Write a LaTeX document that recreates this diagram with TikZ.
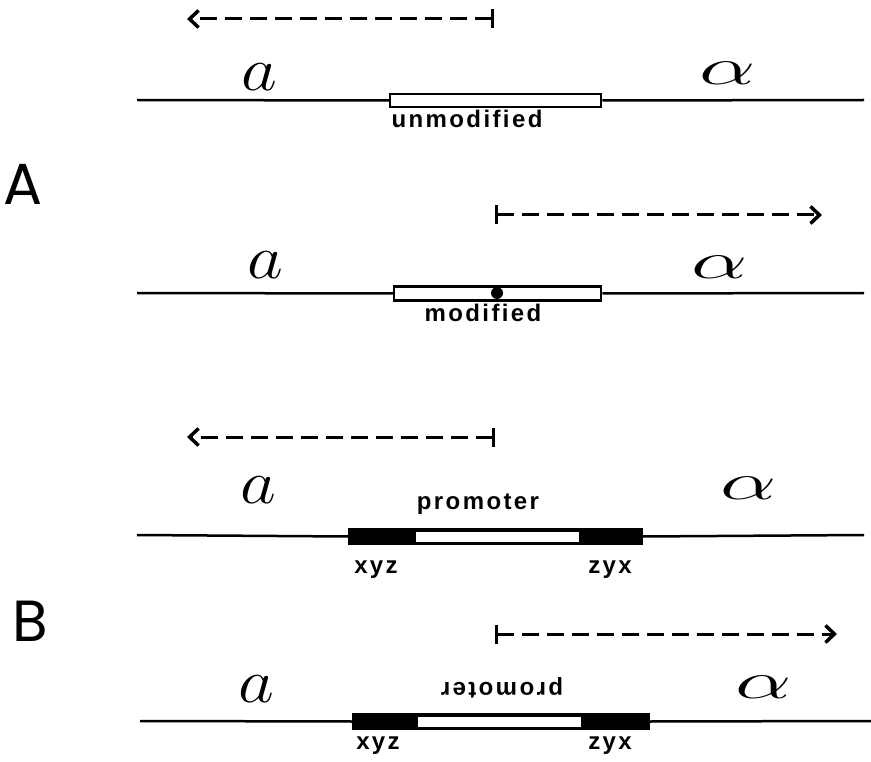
\documentclass[tikz,border=0pt]{standalone}
\usepackage{fontspec}
\setmainfont{Liberation Sans}
\newfontfamily\labelfont[LetterSpace=10]{Liberation Sans}
\newfontfamily\panelfont{Poppins}
\usetikzlibrary{arrows.meta}

\tikzset{
  dna/.style={line width=2.5pt},
  gene/.style={draw, line width=2.5pt, fill=white, inner sep=0pt, minimum width=#1},
  flank/.style={draw, fill=black, line width=1pt, inner sep=0pt, minimum height=16pt, minimum width=#1},
  core/.style={fill=white, inner sep=0pt, minimum height=10pt, minimum width=#1},
  transcript/.style={line width=3pt, dash pattern=on 17pt off 8pt,
    {Bar[width=19pt,line width=3pt]}-{Straight Barb[length=9pt,width=17pt,line width=3.5pt]}},
  lbl/.style={font=\labelfont\bfseries\fontsize{24}{24}\selectfont, inner sep=0pt},
  panel/.style={font=\panelfont\fontsize{58}{58}\selectfont, inner sep=0pt},
  script/.style={inner sep=0pt},
}

\newcommand{\lefty}{\scalebox{2.8}[2.5]{\fontsize{25}{25}\selectfont$a$}}
\newcommand{\greekalpha}{\scalebox{3.6}[2.1]{\fontsize{25}{25}\selectfont$\alpha$}}

\begin{document}
\begin{tikzpicture}[x=1pt,y=-1pt]
\useasboundingbox (0,0) rectangle (871,762);

% panel letters
\node[panel] (pA) at (23,184) {A};
\node[panel] (pB) at (30,621) {B};

% ---------- A, unmodified ----------
\coordinate (s1) at (494,19);
\coordinate (e1) at (187,19);
\draw[transcript] (s1) -- (e1);
\node[script] (a1) at (259,77) {\lefty};
\node[script] (al1) at (728,73) {\greekalpha};
\coordinate (l1) at (137,100);
\coordinate (r1) at (864,100);
\node[gene=211pt, minimum height=13pt] (g1) at (495.5,100.5) {};
\draw[dna] (l1) -- (g1.west);
\draw[dna] (g1.east) -- (r1);
\node[lbl, anchor=base] (t1) at (467,128) {unmodified};

% ---------- A, modified ----------
\coordinate (s2) at (495,215);
\coordinate (e2) at (822,215);
\draw[transcript] (s2) -- (e2);
\node[script] (a2) at (265,265) {\lefty};
\node[script] (al2) at (720,267) {\greekalpha};
\coordinate (l2) at (137,293);
\coordinate (r2) at (864,293);
\node[gene=207pt, minimum height=14pt] (g2) at (497.5,293.5) {};
\draw[dna] (l2) -- (g2.west);
\draw[dna] (g2.east) -- (r2);
\node[circle, fill=black, inner sep=0pt, minimum size=12pt] (m2) at (497,293) {};
\node[lbl, anchor=base] (t2) at (483,322) {modified};

% ---------- B, promoter in place ----------
\coordinate (s3) at (495,437);
\coordinate (e3) at (187,437);
\draw[transcript] (s3) -- (e3);
\node[script] (a3) at (258,490) {\lefty};
\node[script] (al3) at (749,488) {\greekalpha};
\coordinate (l3) at (137,535);
\coordinate (r3) at (864,535);
\node[flank=294pt] (f3) at (495.5,536.5) {};
\draw[dna] (l3) -- (f3.west);
\draw[dna] (f3.east) -- (r3);
\node[core=163pt] (c3) at (497.5,537) {};
\node[lbl, anchor=base] (p3) at (478,509) {promoter};
\node[lbl, anchor=base] (x3) at (376,573) {xyz};
\node[lbl, anchor=base] (z3) at (610,573) {zyx};

% ---------- B, promoter inverted ----------
\coordinate (s4) at (495,634);
\coordinate (e4) at (837,634);
\draw[transcript] (s4) -- (e4);
\node[script] (a4) at (256,689) {\lefty};
\node[script] (al4) at (764,687) {\greekalpha};
\coordinate (l4) at (140,721);
\coordinate (r4) at (871,721);
\node[flank=297pt] (f4) at (501,721.5) {};
\draw[dna] (l4) -- (f4.west);
\draw[dna] (f4.east) -- (r4);
\node[core=163pt] (c4) at (499.5,722) {};
\node[lbl, rotate=180] (p4) at (502,688) {promoter};
\node[lbl, anchor=base] (x4) at (378,749) {xyz};
\node[lbl, anchor=base] (z4) at (610,749) {zyx};
\end{tikzpicture}
\end{document}
